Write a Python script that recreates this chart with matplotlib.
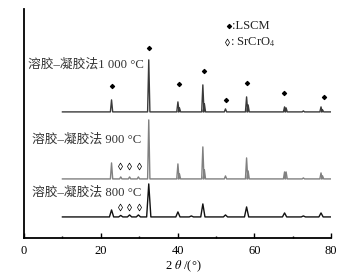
import matplotlib
matplotlib.use('Agg')
import matplotlib.pyplot as plt
import numpy as np

plt.rcParams['mathtext.fontset'] = 'stix'

# XRD traces: peak position (2θ), peak height (arb.), baseline offset
x_start, x_end = 10, 80

pos_1000 = [22.8, 32.5, 40.1, 40.5, 46.6, 47.0, 52.5, 58.0, 58.4, 67.9, 68.3, 72.8, 77.4, 77.8]
hgt_1000 = [12, 52, 10, 4, 27, 8, 3, 15, 7, 5, 4, 1, 5, 2]
off_1000 = 126

pos_900 = [22.8, 25.2, 27.5, 29.8, 32.5, 40.1, 40.5, 46.6, 47.0, 52.5, 58.0, 58.4, 67.9, 68.3, 72.8, 77.4, 77.8]
hgt_900 = [16, 2, 2, 2, 59, 15, 5, 32, 9, 3, 21, 8, 7, 7, 1, 6, 3]
off_900 = 59

pos_800 = [22.8, 25.2, 27.5, 29.8, 32.5, 40.1, 43.6, 46.6, 52.5, 58.0, 67.9, 72.8, 77.4]
hgt_800 = [7, 1.5, 2, 2, 33, 5, 1, 13, 2, 10, 4, 1, 4]
off_800 = 21

# phase markers
lscm_x = [22.9, 32.6, 40.4, 46.8, 52.7, 58.1, 67.7, 78.2]
lscm_y = [152, 190, 154, 167, 138, 155, 145, 141]
src_x = [25.0, 27.4, 30.0]
src_y_900 = 72
src_y_800 = 31


def trace(pos, hgt, off, w):
    xs, ys = [x_start], [off]
    for p, h in zip(pos, hgt):
        xs += [p - w, p, p + w]
        ys += [off, off + h, off]
    xs.append(x_end)
    ys.append(off)
    return np.array(xs), np.array(ys)


fig = plt.figure(figsize=(3.54, 2.77), dpi=100)
ax = fig.add_axes([0.068, 0.141, 0.867, 0.827])

x1, y1 = trace(pos_1000, hgt_1000, off_1000, 0.3)
x2, y2 = trace(pos_900, hgt_900, off_900, 0.3)
x3, y3 = trace(pos_800, hgt_800, off_800, 0.55)
ax.plot(x1, y1, color='#3a3a3a', lw=1.0)
ax.plot(x2, y2, color='#808080', lw=1.0)
ax.plot(x3, y3, color='#111111', lw=1.0)

ax.scatter(lscm_x, lscm_y, marker='D', s=4, color='black', zorder=3)
ax.scatter(src_x, [src_y_900] * 3, marker='d', s=12, facecolor='white',
           edgecolor='black', linewidth=0.5, zorder=3)
ax.scatter(src_x, [src_y_800] * 3, marker='d', s=12, facecolor='white',
           edgecolor='black', linewidth=0.5, zorder=3)

fam = ['Liberation Serif', 'Noto Sans CJK SC', 'DejaVu Sans']
ax.text(1.0, 173, '溶胶–凝胶法1 000 °C', family=fam, fontsize=9.2, va='center', ha='left', color='#333333')
ax.text(2.1, 98, '溶胶–凝胶法 900 °C', family=fam, fontsize=9.2, va='center', ha='left', color='#333333')
ax.text(2.1, 45, '溶胶–凝胶法 800 °C', family=fam, fontsize=9.2, va='center', ha='left', color='#333333')

# legend
ax.scatter([53.4], [212], marker='D', s=4, color='black', zorder=3)
ax.scatter([52.8], [196], marker='d', s=12, facecolor='white',
           edgecolor='black', linewidth=0.5, zorder=3)
ax.text(54.2, 212, ':LSCM', family=fam, fontsize=9, va='center', ha='left', color='#222222')
ax.text(53.6, 196, ': SrCrO$_4$', family=fam, fontsize=9, va='center', ha='left', color='#222222')

ax.set_xlim(0, 80)
ax.set_ylim(0, 229)
ax.set_xticks([0, 20, 40, 60, 80])
ax.set_xticks([10, 30, 50, 70], minor=True)
ax.set_yticks([])
ax.tick_params(axis='x', which='major', direction='in', length=3.5, width=1.0, pad=5)
ax.tick_params(axis='x', which='minor', direction='in', length=1.5, width=1.0)
for lab in ax.get_xticklabels():
    lab.set_family('Liberation Serif')
    lab.set_fontsize(9)
ax.spines['top'].set_visible(False)
ax.spines['right'].set_visible(False)
ax.spines['left'].set_linewidth(1.3)
ax.spines['bottom'].set_linewidth(1.3)

ax.set_xlabel(r'2 $\theta$ /(°)', family='Liberation Serif', fontsize=9)
ax.xaxis.set_label_coords(0.52, -0.092)

fig.savefig('out.png', dpi=100)
